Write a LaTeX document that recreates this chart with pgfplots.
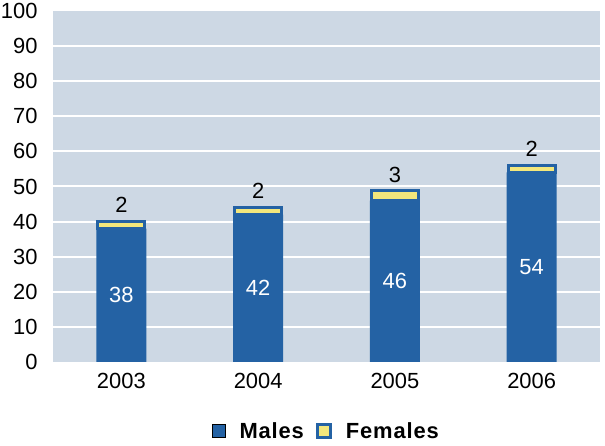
\documentclass[border=0pt]{standalone}
\usepackage{pgfplots}
\pgfplotsset{compat=1.18}
\usepackage{fontspec}
\setmainfont{Liberation Sans}
\definecolor{bgc}{HTML}{CDD8E4}
\definecolor{mblue}{HTML}{2462A4}
\definecolor{fyel}{HTML}{F3E77C}
\begin{document}
\begin{tikzpicture}[x=1bp,y=1bp]
\path[use as bounding box] (0,0) rectangle (605,446);
\pgfplotsset{common/.style={at={(53bp,84bp)}, anchor=south west, scale only axis,
  width=547bp, height=351bp, xmin=-0.5, xmax=3.5, ymin=0, ymax=100}}
\begin{axis}[common,
 ybar stacked, bar width=50bp,
 axis line style={draw=none}, major tick length=0pt,
 axis background/.style={fill=bgc},
 ymajorgrids, grid style={white, line width=2bp},
 ytick={10,20,...,90}, extra y ticks={0,100}, extra y tick style={grid=none},
 xtick={0,1,2,3}, xticklabels={2003,2004,2005,2006},
 tick label style={font=\fontsize{22}{24}\selectfont},
 /pgf/number format/assume math mode=true,
 yticklabel style={xshift=-12bp},
 xticklabel style={yshift=-8bp},
 legend style={at={(0.5,0)}, anchor=north, yshift=-56bp, draw=none, fill=none,
   font=\bfseries\addfontfeature{LetterSpace=4}\fontsize{22}{24}\selectfont, legend columns=-1,
   /tikz/every even column/.append style={column sep=10bp},
   /tikz/every odd column/.append style={column sep=12bp}},
 legend image code/.code={\draw[#1] (0bp,-6.5bp) rectangle (13bp,6.5bp);},
]
\addplot[fill=mblue, draw=none] coordinates {(0,38) (1,42) (2,46) (3,54)};
\addplot[fill=fyel, draw=mblue, line width=3bp, bar width=47bp, nodes near coords, point meta=explicit symbolic,
  every node near coord/.append style={font=\fontsize{22}{24}\selectfont, black, anchor=south, yshift=8bp}]
  coordinates {(0,2)[2] (1,2)[2] (2,3)[3] (3,2)[2]};
\legend{Males, Females}
\end{axis}
\begin{axis}[common, hide axis]
\addplot[draw=none, mark=none, nodes near coords, point meta=explicit symbolic,
  every node near coord/.append style={font=\fontsize{22}{24}\selectfont, white, anchor=center}]
  coordinates {(0,19)[38] (1,21)[42] (2,23)[46] (3,27)[54]};
\end{axis}
\end{tikzpicture}
\end{document}
